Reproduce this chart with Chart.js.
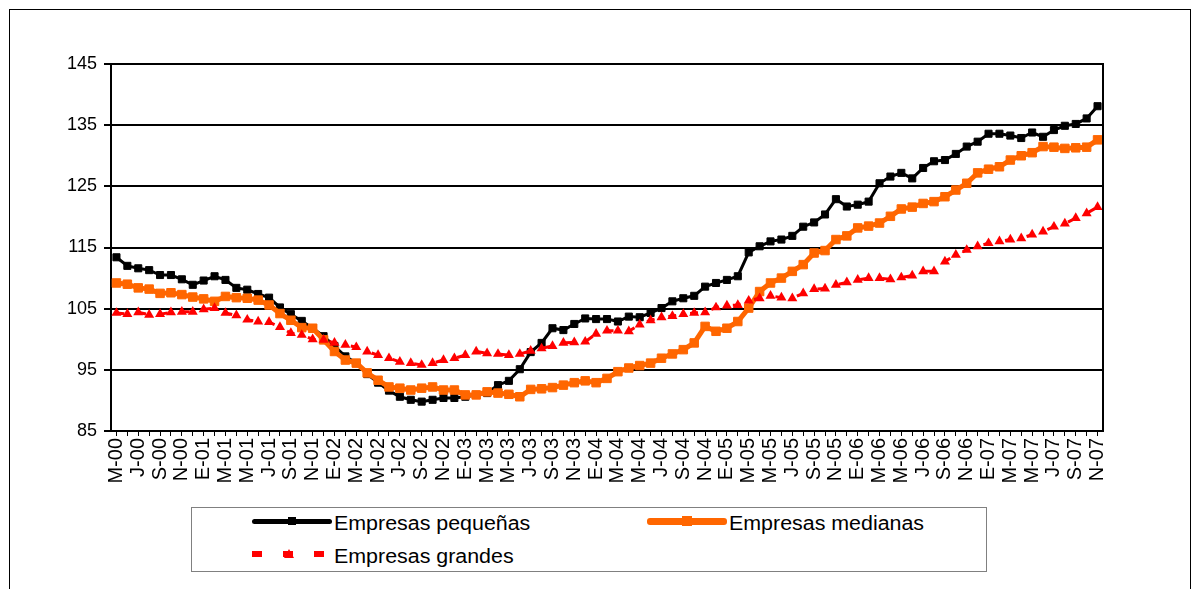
<!DOCTYPE html>
<html>
<head>
<meta charset="utf-8">
<script src="https://cdn.jsdelivr.net/npm/chart.js@4.4.1/dist/chart.umd.min.js"></script>
<style>
  body { margin: 0; background: #fff; font-family: Arial, "Liberation Sans", sans-serif; }
  #wrap { position: relative; width: 1201px; height: 589px; overflow: hidden; }
  #frame { position: absolute; left: 9px; top: 9px; width: 1180px; height: 700px; border: 1px solid #000; pointer-events: none; }
  #legend { position: absolute; left: 191px; top: 507px; width: 794px; height: 63px; border: 1px solid #808080; background: #fff; }
  .item { position: absolute; height: 30px; }
  .item .line { position: absolute; left: 0; border-radius: 3px; }
  .item .mark { position: absolute; }
  .item span { position: absolute; white-space: nowrap; font-size: 20px; color: #000; transform: scaleX(1.07); transform-origin: left center; }
</style>
</head>
<body>
<div id="wrap">
  <canvas id="chart" width="1201" height="589"></canvas>
  <div id="frame"></div>
  <div id="legend"></div>
</div>
<script>
// categorías mensuales (may-2000 a nov-2007)
const categories = [
  'M-00','J-00','J-00','A-00','S-00','O-00','N-00','D-00',
  'E-01','F-01','M-01','A-01','M-01','J-01','J-01','A-01','S-01','O-01','N-01','D-01',
  'E-02','F-02','M-02','A-02','M-02','J-02','J-02','A-02','S-02','O-02','N-02','D-02',
  'E-03','F-03','M-03','A-03','M-03','J-03','J-03','A-03','S-03','O-03','N-03','D-03',
  'E-04','F-04','M-04','A-04','M-04','J-04','J-04','A-04','S-04','O-04','N-04','D-04',
  'E-05','F-05','M-05','A-05','M-05','J-05','J-05','A-05','S-05','O-05','N-05','D-05',
  'E-06','F-06','M-06','A-06','M-06','J-06','J-06','A-06','S-06','O-06','N-06','D-06',
  'E-07','F-07','M-07','A-07','M-07','J-07','J-07','A-07','S-07','O-07','N-07'
];

const pequenas = [
  113.4,112.0,111.6,111.3,110.5,110.5,109.8,108.9,109.6,110.3,
  109.7,108.4,108.1,107.4,106.8,105.2,104.1,103.0,101.8,100.5,
  98.9,97.2,96.1,94.3,92.9,91.6,90.6,90.1,89.8,90.1,
  90.4,90.4,90.6,90.9,91.2,92.5,93.2,95.1,97.9,99.4,
  101.8,101.5,102.5,103.4,103.3,103.3,102.9,103.7,103.6,104.3,
  105.1,106.2,106.7,107.1,108.6,109.2,109.7,110.3,114.2,115.2,
  116.0,116.3,116.9,118.4,119.1,120.4,122.9,121.7,122.0,122.5,
  125.5,126.6,127.2,126.3,128.0,129.1,129.3,130.3,131.5,132.3,
  133.6,133.6,133.3,132.9,133.8,133.1,134.2,134.9,135.2,136.1,
  138.1
];

const medianas = [
  109.2,109.0,108.4,108.2,107.5,107.6,107.3,106.9,106.6,106.2,
  107.0,106.8,106.7,106.4,105.6,104.2,103.1,101.9,101.8,99.9,
  98.0,96.6,96.1,94.5,93.3,92.2,92.0,91.7,92.0,92.2,
  91.7,91.7,90.9,90.9,91.4,91.2,91.0,90.6,91.8,91.9,
  92.1,92.5,92.9,93.2,92.9,93.6,94.7,95.3,95.7,96.1,
  96.9,97.6,98.3,99.4,102.1,101.3,101.8,102.9,105.1,107.8,
  109.2,110.0,111.1,112.2,114.1,114.5,116.3,116.9,118.2,118.5,
  119.0,120.1,121.3,121.6,122.2,122.5,123.3,124.4,125.5,127.2,
  127.8,128.2,129.3,130.0,130.5,131.5,131.4,131.2,131.3,131.4,
  132.6
];

const grandes = [
  104.3,104.1,104.4,104.0,104.1,104.4,104.5,104.5,104.9,105.1,
  104.3,103.9,103.2,102.9,102.8,102.0,101.0,100.7,100.0,99.9,
  99.4,99.1,98.7,98.0,97.4,96.9,96.3,96.1,95.8,96.1,
  96.6,96.9,97.4,98.0,97.7,97.6,97.4,97.6,98.1,98.5,
  98.9,99.4,99.5,99.6,100.9,101.4,101.4,101.3,102.4,103.1,
  103.6,103.8,104.1,104.3,104.4,105.2,105.5,105.6,106.3,106.7,
  107.1,106.8,106.7,107.5,108.2,108.3,108.9,109.3,109.7,110.0,
  110.0,109.8,110.1,110.4,111.1,111.1,112.7,113.8,114.6,115.2,
  115.7,116.0,116.3,116.5,117.1,117.6,118.4,118.9,119.8,120.6,
  121.6
];

const seriesNames = ['Empresas pequeñas', 'Empresas medianas', 'Empresas grandes'];
const seriesColors = ['#000000', '#FF6600', '#FF0000'];
const yTicks = [85, 95, 105, 115, 125, 135, 145];

const FONT = "Arial, 'Liberation Sans', sans-serif";

// borde derecho del área de trazado
const plotFrame = {
    id: 'plotFrame',
    afterDraw(chart) {
        const { ctx, chartArea: a } = chart;
        ctx.save();
        ctx.strokeStyle = '#000';
        ctx.lineWidth = 2;
        ctx.beginPath();
        ctx.moveTo(a.right, a.top - 1);
        ctx.lineTo(a.right, a.bottom + 1);
        ctx.stroke();
        ctx.restore();
    }
};

new Chart(document.getElementById('chart'), {
    type: 'line',
    data: {
        labels: categories,
        datasets: [{
            label: seriesNames[0],
            data: pequenas,
            borderColor: seriesColors[0],
            backgroundColor: seriesColors[0],
            borderWidth: 3,
            pointStyle: 'rect',
            pointRadius: 5,
            pointBorderWidth: 1,
            tension: 0,
            order: 3
        }, {
            label: seriesNames[1],
            data: medianas,
            borderColor: seriesColors[1],
            backgroundColor: seriesColors[1],
            borderWidth: 5,
            pointStyle: 'rect',
            pointRadius: 6,
            pointBorderWidth: 1,
            tension: 0,
            order: 2
        }, {
            label: seriesNames[2],
            data: grandes,
            borderColor: seriesColors[2],
            backgroundColor: seriesColors[2],
            borderWidth: 3,
            borderDash: [8, 14],
            pointStyle: 'triangle',
            pointRadius: 5.8,
            pointBorderWidth: 0,
            tension: 0,
            order: 1
        }]
    },
    options: {
        responsive: false,
        animation: false,
        layout: { padding: { left: 0, top: 64, right: 98, bottom: 0 } },
        plugins: { legend: { display: false }, tooltip: { enabled: false } },
        scales: {
            x: {
                offset: true,
                afterFit: (scale) => { scale.height = 158; },
                grid: { drawOnChartArea: false, color: '#000', lineWidth: 1, tickLength: 5 },
                border: { color: '#000', width: 2 },
                ticks: {
                    autoSkip: false,
                    minRotation: 90,
                    maxRotation: 90,
                    padding: 2,
                    color: '#000',
                    font: { family: FONT, size: 20 },
                    callback: function(value, index) {
                        return index % 2 === 0 ? categories[index] : '';
                    }
                }
            },
            y: {
                min: yTicks[0],
                max: yTicks[yTicks.length - 1],
                afterFit: (scale) => { scale.width = 111; },
                afterBuildTicks: (scale) => { scale.ticks = yTicks.map(v => ({ value: v })); },
                grid: { color: '#000', lineWidth: 2, tickLength: 7 },
                border: { color: '#000', width: 2 },
                ticks: {
                    padding: 7,
                    color: '#000',
                    font: { family: FONT, size: 18 }
                }
            }
        }
    },
    plugins: [plotFrame]
});

// leyenda al estilo de la hoja de cálculo
const legendLayout = [
    { x: 60, y: 0, lineW: 5, dash: false, mark: 'rect', size: 8 },
    { x: 455, y: 0, lineW: 7, dash: false, mark: 'rect', size: 10 },
    { x: 60, y: 33, lineW: 6, dash: true, mark: 'tri', size: 10 }
];
const legendEl = document.getElementById('legend');
seriesNames.forEach((name, i) => {
    const L = legendLayout[i];
    const color = seriesColors[i];
    const item = document.createElement('div');
    item.className = 'item';
    item.style.left = L.x + 'px';
    item.style.top = L.y + 'px';

    const line = document.createElement('div');
    line.className = 'line';
    line.style.width = (L.dash ? 74 : 80) + 'px';
    line.style.height = L.lineW + 'px';
    line.style.top = (13 - L.lineW / 2) + 'px';
    line.style.background = L.dash
        ? 'repeating-linear-gradient(to right, ' + color + ' 0 10px, transparent 10px 31px)'
        : color;
    if (L.dash) line.style.borderRadius = '0';
    item.appendChild(line);

    const mark = document.createElement('div');
    mark.className = 'mark';
    const cx = L.dash ? 37 : 40;
    if (L.mark === 'rect') {
        mark.style.width = L.size + 'px';
        mark.style.height = L.size + 'px';
        mark.style.left = (cx - L.size / 2) + 'px';
        mark.style.top = (13 - L.size / 2) + 'px';
        mark.style.background = color;
    } else {
        mark.style.width = '0';
        mark.style.height = '0';
        mark.style.left = (cx - L.size / 2) + 'px';
        mark.style.top = (13 - 5) + 'px';
        mark.style.borderLeft = (L.size / 2) + 'px solid transparent';
        mark.style.borderRight = (L.size / 2) + 'px solid transparent';
        mark.style.borderBottom = '9px solid ' + color;
    }
    item.appendChild(mark);

    const label = document.createElement('span');
    label.textContent = name;
    label.style.left = (L.dash ? 82 : 82) + 'px';
    label.style.top = '4px';
    item.appendChild(label);

    legendEl.appendChild(item);
});
</script>
</body>
</html>
